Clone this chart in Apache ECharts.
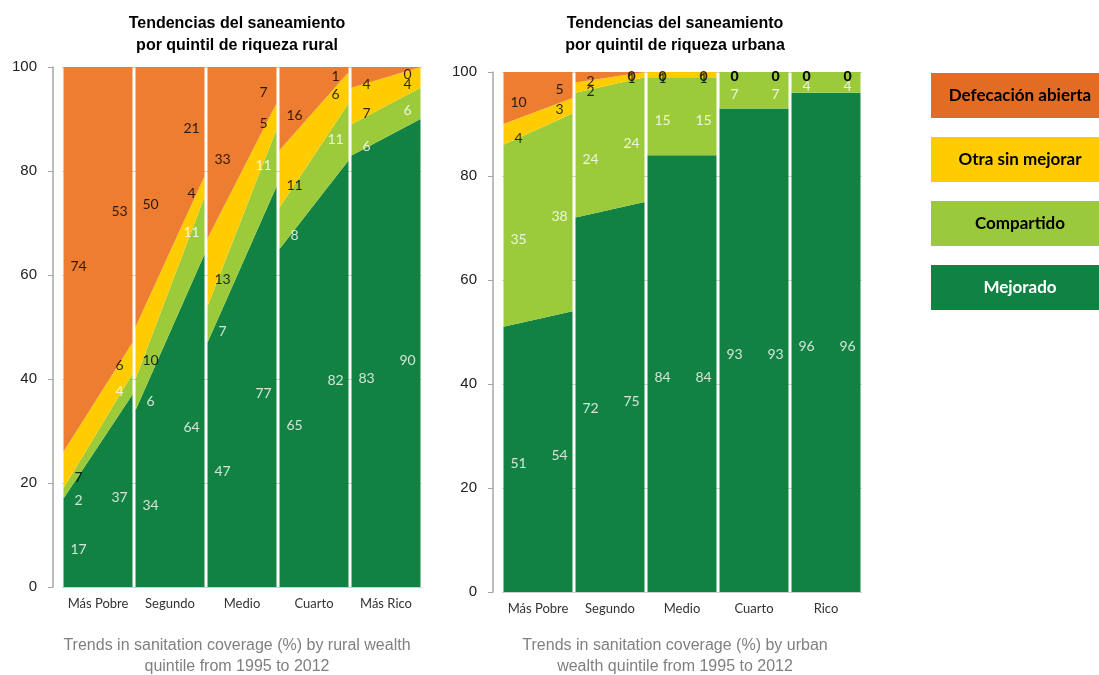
<!DOCTYPE html>
<html><head><meta charset="utf-8">
<script src="https://cdn.jsdelivr.net/npm/echarts@6/dist/echarts.min.js"></script>
<style>html,body{margin:0;padding:0;background:#fff}#c{width:1099px;height:675px}</style>
</head><body><div id="c"></div>
<script>
const layerNames = ['Mejorado', 'Compartido', 'Otra sin mejorar', 'Defecación abierta'];
const ruralQuintiles = ['Más Pobre', 'Segundo', 'Medio', 'Cuarto', 'Más Rico'];
const urbanQuintiles = ['Más Pobre', 'Segundo', 'Medio', 'Cuarto', 'Rico'];
const yTicks = [0, 20, 40, 60, 80, 100];

const ruralMejorado1995 = [17, 34, 47, 65, 83];
const ruralMejorado2012 = [37, 64, 77, 82, 90];
const ruralCompartido1995 = [2, 6, 7, 8, 6];
const ruralCompartido2012 = [4, 11, 11, 11, 6];
const ruralOtra1995 = [7, 10, 13, 11, 7];
const ruralOtra2012 = [6, 4, 5, 6, 4];
const ruralDefecacion1995 = [74, 50, 33, 16, 4];
const ruralDefecacion2012 = [53, 21, 7, 1, 0];

const urbanMejorado1995 = [51, 72, 84, 93, 96];
const urbanMejorado2012 = [54, 75, 84, 93, 96];
const urbanCompartido1995 = [35, 24, 15, 7, 4];
const urbanCompartido2012 = [38, 24, 15, 7, 4];
const urbanOtra1995 = [4, 2, 1, 0, 0];
const urbanOtra2012 = [3, 1, 1, 0, 0];
const urbanDefecacion1995 = [10, 2, 0, 0, 0];
const urbanDefecacion2012 = [5, 0, 0, 0, 0];

const ruralTitle = 'Tendencias del saneamiento\npor quintil de riqueza rural';
const urbanTitle = 'Tendencias del saneamiento\npor quintil de riqueza urbana';
const ruralCaption = 'Trends in sanitation coverage (%) by rural wealth\nquintile from 1995 to 2012';
const urbanCaption = 'Trends in sanitation coverage (%) by urban\nwealth quintile from 1995 to 2012';

const areaColors = ['#118241', '#9BCB3B', '#FFCC00', '#ED7D31'];
const legendColors = ['#108241', '#9ACA3C', '#FFCC00', '#E36C25'];
const labelColors = ['#ffffff', '#ffffff', '#000000', '#000000'];
const legendTextColors = ['#ffffff', '#000000', '#000000', '#000000'];

const ruralLayers = [
  [ruralMejorado1995, ruralMejorado2012],
  [ruralCompartido1995, ruralCompartido2012],
  [ruralOtra1995, ruralOtra2012],
  [ruralDefecacion1995, ruralDefecacion2012]
];
const urbanLayers = [
  [urbanMejorado1995, urbanMejorado2012],
  [urbanCompartido1995, urbanCompartido2012],
  [urbanOtra1995, urbanOtra2012],
  [urbanDefecacion1995, urbanDefecacion2012]
];

const GAP = 0.021;
const LABEL_POS = [0.23, 0.8];

function buildPanel(p, cats, layers, boldZero, labelDy) {
  const series = [];
  cats.forEach((c, g) => {
    layers.forEach((ly, l) => {
      series.push({
        type: 'line', xAxisIndex: p * 2, yAxisIndex: p, stack: 'p' + p + 'g' + g,
        name: layerNames[l], symbol: 'none', silent: true, z: 2,
        lineStyle: { width: 0 }, areaStyle: { color: areaColors[l], opacity: 1 },
        data: [[g + GAP, ly[0][g]], [g + 1 - GAP, ly[1][g]]]
      });
    });
  });
  const labelData = [[], [], [], []];
  cats.forEach((c, g) => {
    [0, 1].forEach(t => {
      let cum = 0;
      layers.forEach((ly, l) => {
        const v = ly[t][g];
        const item = { value: [g + LABEL_POS[t], cum + v / 2, v] };
        if (boldZero && v === 0) item.label = { fontWeight: 'bold' };
        labelData[l].push(item);
        cum += v;
      });
    });
  });
  layers.forEach((ly, l) => {
    series.push({
      type: 'scatter', xAxisIndex: p * 2, yAxisIndex: p, symbolSize: 0, silent: true, z: 5,
      label: { show: true, position: 'inside', offset: [0, labelDy], formatter: pr => String(pr.value[2]),
               color: labelColors[l], fontSize: 14, fontFamily: 'Lato' },
      data: labelData[l]
    });
  });
  return series;
}

function xAxes(p, cats) {
  return [
    { type: 'time', gridIndex: p, min: 0, max: cats.length, show: false, position: 'bottom' },
    { type: 'category', gridIndex: p, data: cats, position: 'bottom',
      axisLine: { show: false }, axisTick: { show: false }, splitLine: { show: false },
      axisLabel: { interval: 0, fontFamily: 'Lato', fontSize: 13, color: '#333', margin: 10 } }
  ];
}
function yAxis(p) {
  return {
    type: 'value', gridIndex: p, min: yTicks[0], max: yTicks[yTicks.length - 1],
    interval: yTicks[1] - yTicks[0], offset: 9, position: 'left',
    axisLine: { show: true, onZero: false, lineStyle: { color: '#a6a6a6', width: 1.5 } },
    axisTick: { show: true, length: 5, lineStyle: { color: '#a6a6a6' } },
    axisLabel: { fontFamily: 'Liberation Sans', fontSize: 15, color: '#222', margin: 16 },
    splitLine: { show: true, lineStyle: { color: '#d0d0d0' } }
  };
}

const graphics = [];
function textEl(x, y, text, style) {
  graphics.push({ type: 'text', x: x, y: y, silent: true,
    style: Object.assign({ text: text, textAlign: 'center', textVerticalAlign: 'top' }, style) });
}
textEl(237, 13, ruralTitle, { font: 'bold 16px "Liberation Sans"', fill: '#000', lineHeight: 22 });
textEl(675, 13, urbanTitle, { font: 'bold 16px "Liberation Sans"', fill: '#000', lineHeight: 22 });
textEl(237, 635, ruralCaption, { font: '16px "Liberation Sans"', fill: '#808080', lineHeight: 21 });
textEl(675, 635, urbanCaption, { font: '16px "Liberation Sans"', fill: '#808080', lineHeight: 21 });

const legendTops = [73, 137, 201, 265];
[3, 2, 1, 0].forEach((l, i) => {
  graphics.push({ type: 'rect', silent: true, shape: { x: 931, y: legendTops[i], width: 168, height: 45 },
    style: { fill: legendColors[l] } });
  graphics.push({ type: 'text', silent: true, x: 1020, y: legendTops[i] + 22.5,
    style: { text: layerNames[l], textAlign: 'center', textVerticalAlign: 'middle',
             font: 'bold 17px Lato', fill: legendTextColors[l] } });
});

const chart = echarts.init(document.getElementById('c'), null, { renderer: 'canvas' });
chart.setOption({
  animation: false,
  backgroundColor: '#ffffff',
  grid: [
    { left: 62, top: 67, width: 360, height: 520 },
    { left: 502, top: 72, width: 360, height: 520 }
  ],
  xAxis: xAxes(0, ruralQuintiles).concat(xAxes(1, urbanQuintiles)),
  yAxis: [yAxis(0), yAxis(1)],
  series: buildPanel(0, ruralQuintiles, ruralLayers, false, 7).concat(buildPanel(1, urbanQuintiles, urbanLayers, true, 4)),
  graphic: graphics
});
</script></body></html>
